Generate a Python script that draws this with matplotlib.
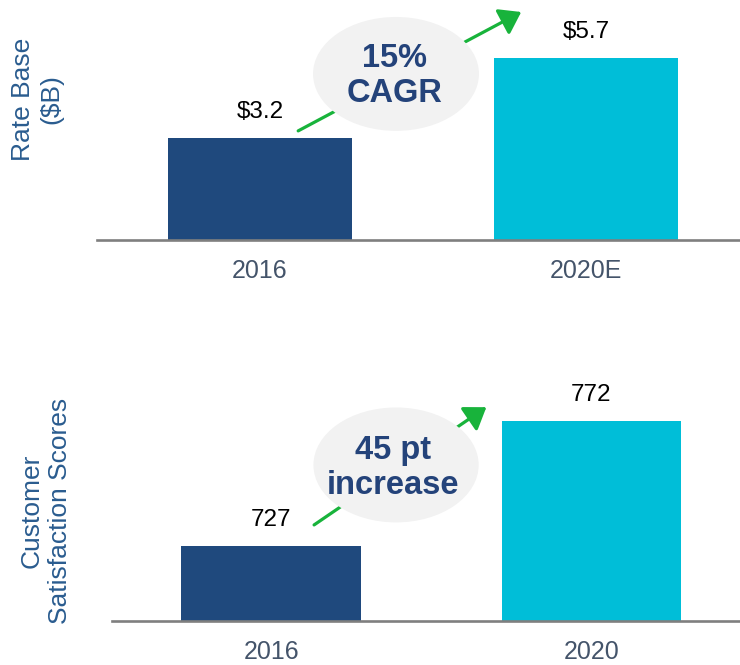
import matplotlib
matplotlib.use("Agg")
import matplotlib.pyplot as plt
from matplotlib.patches import Ellipse

plt.rcParams['font.family'] = ['Liberation Sans', 'DejaVu Sans']

# ---- data ----
rb_categories = ["2016", "2020E"]
rb_values = [3.2, 5.7]
rb_labels = ["$3.2", "$5.7"]
rb_callout = "15%\nCAGR"

cs_categories = ["2016", "2020"]
cs_values = [727, 772]
cs_labels = ["727", "772"]
cs_callout = "45 pt\nincrease"

bar_colors = ["#1F497D", "#00BED8"]
axis_gray = "#7F7F7F"
tick_color = "#44546A"
ylabel_color = "#2A5C8F"
callout_color = "#24437A"
ellipse_fill = "#F2F2F2"
arrow_green = "#18B33B"

W, H = 740, 665
fig = plt.figure(figsize=(W / 100, H / 100), dpi=100)


def px_axes(left, right, top, bottom):
    return fig.add_axes([left / W, (H - bottom) / H, (right - left) / W, (bottom - top) / H])


def style(ax):
    for s in ["top", "right", "left"]:
        ax.spines[s].set_visible(False)
    ax.spines["bottom"].set_color(axis_gray)
    ax.spines["bottom"].set_linewidth(1.9)
    ax.set_yticks([])
    ax.tick_params(axis="x", length=0, pad=14, labelsize=18, labelcolor=tick_color)


def draw(ax, cats, vals, labels, width, ylim, xlim, callout, ell, txt, arrow):
    x = list(range(len(cats)))
    ax.bar(x, vals, width=width, color=bar_colors, zorder=2)
    ax.set_xticks(x)
    ax.set_xticklabels(cats)
    ax.set_xlim(*xlim)
    ax.set_ylim(*ylim)
    style(ax)
    for xi, v, lab in zip(x, vals, labels):
        ax.annotate(lab, (xi, v), xytext=(0, 14.2), textcoords="offset points",
                    ha="center", va="baseline", fontsize=17.5, color="black")
    # arrow (behind callout)
    ax.annotate("", xy=arrow[1], xytext=arrow[0],
                arrowprops=dict(arrowstyle="-|>,head_length=0.55,head_width=0.38",
                                color=arrow_green, lw=2.3, mutation_scale=23,
                                shrinkA=0, shrinkB=0),
                zorder=3, annotation_clip=False)
    e = Ellipse(ell[0], ell[1], ell[2], facecolor=ellipse_fill, edgecolor="none", zorder=4)
    ax.add_patch(e)
    ax.text(txt[0], txt[1], callout, ha="center", va="center", fontsize=23.5,
            fontweight="bold", color=callout_color, linespacing=1.15, zorder=5)


# top chart: Rate Base
ax1 = px_axes(97, 740, 0, 240)
draw(ax1, rb_categories, rb_values, rb_labels, 0.565, (0, 7.5), (-0.5, 1.472),
     rb_callout,
     ((0.417, 5.19), 0.509, 3.56), (0.412, 5.12),
     ((0.117, 3.41), (0.801, 7.125)))
fig.text(37 / W, (H - 99) / H, "Rate Base\n($B)", rotation=90, ha="center", va="center",
         fontsize=19, color=ylabel_color, multialignment="center")

# bottom chart: Customer Satisfaction
ax2 = px_axes(112, 740, 300, 621)
draw(ax2, cs_categories, cs_values, cs_labels, 0.56, (700, 815.6), (-0.497, 1.464),
     cs_callout,
     ((0.390, 756.2), 0.516, 41.4), (0.381, 755.0),
     ((0.134, 734.6), (0.672, 777.0)))
fig.text(46 / W, (H - 511) / H, "Customer\nSatisfaction Scores", rotation=90, ha="center",
         va="center", fontsize=19, color=ylabel_color, multialignment="center")

fig.savefig("out.png", dpi=100)
